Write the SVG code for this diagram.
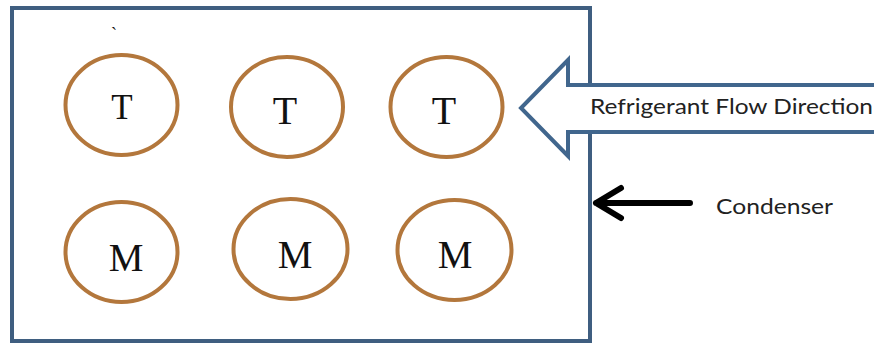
<svg xmlns="http://www.w3.org/2000/svg" width="874" height="344" viewBox="0 0 874 344">
<style>
.ring{fill:none;stroke:#b3773c;stroke-width:4}
.lbl{font-family:"Liberation Serif","Times New Roman",serif;fill:#111;text-anchor:middle}
.sans{font-family:Lato,"Open Sans","Liberation Sans",sans-serif;fill:#222}
</style>
<rect width="874" height="344" fill="#fff"/>
<g id="condenser-box">
<rect x="12" y="8" width="578" height="333" fill="none" stroke="#3f5e80" stroke-width="4"/>
<text x="114" y="40" class="lbl" font-size="18">`</text>
</g>
<g id="t1"><ellipse cx="121.5" cy="105" rx="56" ry="50" class="ring"/><text x="122" y="119" class="lbl" font-size="35">T</text></g>
<g id="t2"><ellipse cx="287" cy="107" rx="56" ry="50" class="ring"/><text x="285" y="124" class="lbl" font-size="40">T</text></g>
<g id="t3"><ellipse cx="446.5" cy="107" rx="56" ry="50" class="ring"/><text x="444" y="124" class="lbl" font-size="40">T</text></g>
<g id="m1"><ellipse cx="121.5" cy="252" rx="56" ry="50" class="ring"/><text x="126" y="271" class="lbl" font-size="39">M</text></g>
<g id="m2"><ellipse cx="290.5" cy="249" rx="57" ry="50" class="ring"/><text x="295" y="268" class="lbl" font-size="39">M</text></g>
<g id="m3"><ellipse cx="454.5" cy="250" rx="57" ry="50" class="ring"/><text x="455" y="268" class="lbl" font-size="39">M</text></g>
<g id="flow-arrow">
<path d="M878 85 L568 85 L568 60 L521 108 L568 156 L568 132 L878 132" fill="#fff" stroke="#41668d" stroke-width="4" stroke-linejoin="miter"/>
<text x="590" y="114" class="sans" font-size="21" textLength="283" lengthAdjust="spacingAndGlyphs">Refrigerant Flow Direction</text>
</g>
<g id="connectors">
<path d="M690 203 L596 203 M621 188 L596 203 L621 218" fill="none" stroke="#000" stroke-width="6" stroke-linecap="round" stroke-linejoin="round"/>
</g>
<g id="condenser-label">
<text x="716" y="214" class="sans" font-size="21" textLength="117" lengthAdjust="spacingAndGlyphs">Condenser</text>
</g>
</svg>
